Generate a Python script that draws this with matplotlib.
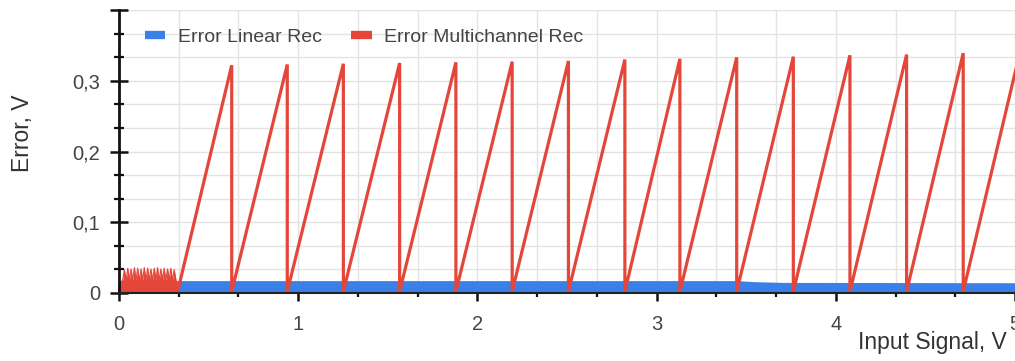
import matplotlib
matplotlib.use("Agg")
import matplotlib.pyplot as plt
from matplotlib.lines import Line2D
from matplotlib.ticker import FixedLocator

plt.rcParams['font.family'] = ['Liberation Sans', 'DejaVu Sans']

# ---- data ----
# Error Linear Rec: envelope of a dense band near zero
blue_x = [0.0, 3.45, 3.55, 3.70, 5.0]
blue_top = [0.0175, 0.0175, 0.016, 0.015, 0.0145]

# Error Multichannel Rec: small noisy segment at start
noise_x = [0.000, 0.010, 0.020,
           0.030, 0.040, 0.049, 0.058, 0.067, 0.076, 0.086, 0.095,
           0.104, 0.113, 0.123, 0.132, 0.141, 0.150, 0.160, 0.169,
           0.178, 0.187, 0.197, 0.206, 0.215, 0.224, 0.234, 0.243,
           0.252, 0.261, 0.271, 0.280, 0.289, 0.298, 0.308, 0.318,
           0.330]
noise_y = [0.004, 0.014, 0.018,
           0.033, 0.018, 0.035, 0.018, 0.034, 0.018, 0.036, 0.018,
           0.035, 0.018, 0.034, 0.018, 0.036, 0.018, 0.035, 0.018,
           0.034, 0.018, 0.035, 0.018, 0.036, 0.018, 0.034, 0.018,
           0.035, 0.018, 0.034, 0.018, 0.035, 0.018, 0.033, 0.018,
           0.005]

# Sawtooth segments: ramp start, peak position and peak value
saw_start = 0.33
saw_start_y = 0.005
peak_x = [0.629, 0.939, 1.252, 1.566, 1.880, 2.194, 2.508, 2.823,
          3.130, 3.447, 3.763, 4.079, 4.395, 4.711, 5.027]
peak_y = [0.322, 0.323, 0.324, 0.325, 0.326, 0.327, 0.328, 0.330,
          0.331, 0.333, 0.334, 0.336, 0.337, 0.339, 0.340]
trough_y = [0.002, 0.002, 0.002, 0.002, 0.002, 0.002, 0.002, 0.002,
            0.002, 0.002, 0.002, 0.002, 0.002, 0.002, 0.002]

y_ticks = [0.0, 0.1, 0.2, 0.3]
y_tick_labels = ['0', '0,1', '0,2', '0,3']
x_ticks = [0, 1, 2, 3, 4, 5]
x_tick_labels = ['0', '1', '2', '3', '4', '5']

series_names = ['Error Linear Rec', 'Error Multichannel Rec']
blue = '#3b80e6'
red = '#e4473a'

# ---- figure ----
fig = plt.figure(figsize=(10.15, 3.61), dpi=100)
ax = fig.add_axes([119/1015, 1-293/361, (1015-119)/1015, (293-10)/361])

ax.set_xlim(0, 5)
ax.set_ylim(0, 0.4)

# grid
ax.xaxis.set_minor_locator(FixedLocator([k/3 for k in range(16)]))
ax.yaxis.set_minor_locator(FixedLocator([k*0.4/12 for k in range(13)]))
ax.grid(which='both', color='#e3e3e3', linewidth=1.0, zorder=0)
ax.set_axisbelow(True)

# blue band
ax.fill_between(blue_x, 0, blue_top, color=blue, linewidth=0, zorder=2)

# red noisy part
ax.fill_between(noise_x, 0, noise_y, color=red, linewidth=0, zorder=3)
ax.plot(noise_x, noise_y, color=red, linewidth=0.8, zorder=3)

# red sawtooth
sx = [saw_start]
sy = [saw_start_y]
for px, py, ty in zip(peak_x, peak_y, trough_y):
    sx += [px, px]
    sy += [py, ty]
ax.plot(sx, sy, color=red, linewidth=2.3, zorder=4, solid_joinstyle='miter')

# spines
for s in ['top', 'right']:
    ax.spines[s].set_visible(False)
ax.spines['left'].set_linewidth(2.0)
ax.spines['left'].set_color('#111111')
ax.spines['bottom'].set_linewidth(1.5)
ax.spines['bottom'].set_color('#222222')
ax.spines['left'].set_zorder(6)
ax.spines['bottom'].set_zorder(6)

ax.set_yticks(y_ticks + [0.4])
ax.set_yticklabels(y_tick_labels + [''])
ax.set_xticks(x_ticks)
ax.set_xticklabels(x_tick_labels)

ax.tick_params(axis='y', which='major', direction='inout', length=13, width=1.8,
               color='#111111', labelsize=14.5, labelcolor='#444444', pad=7)
ax.tick_params(axis='y', which='minor', direction='inout', length=7, width=1.6,
               color='#111111')
ax.tick_params(axis='x', which='major', direction='inout', length=12, width=1.8,
               color='#111111', labelsize=14.5, labelcolor='#444444', pad=10)
ax.tick_params(axis='x', which='minor', direction='inout', length=6, width=1.6,
               color='#111111')

ax.set_ylabel('Error, V', fontsize=16.5, color='#333333')
ax.yaxis.set_label_coords((22-119)/896, (293-133)/283)
ax.yaxis.label.set_va('center')
ax.set_xlabel('Input Signal, V', fontsize=16.5, color='#333333')
ax.xaxis.set_label_coords((932-119)/896, (293-342)/283)
ax.xaxis.label.set_va('center')

handles = [Line2D([], [], color=blue, linewidth=6, solid_capstyle='butt'),
           Line2D([], [], color=red, linewidth=6, solid_capstyle='butt')]
fig.legend(handles, series_names, loc='center left',
           bbox_to_anchor=(145/1015, 1-37/361), ncol=2, frameon=False,
           fontsize=14, handlelength=1.05, handletextpad=0.65,
           columnspacing=1.5, borderpad=0, borderaxespad=0,
           labelcolor='#444444')

fig.savefig('out.png', dpi=100)
